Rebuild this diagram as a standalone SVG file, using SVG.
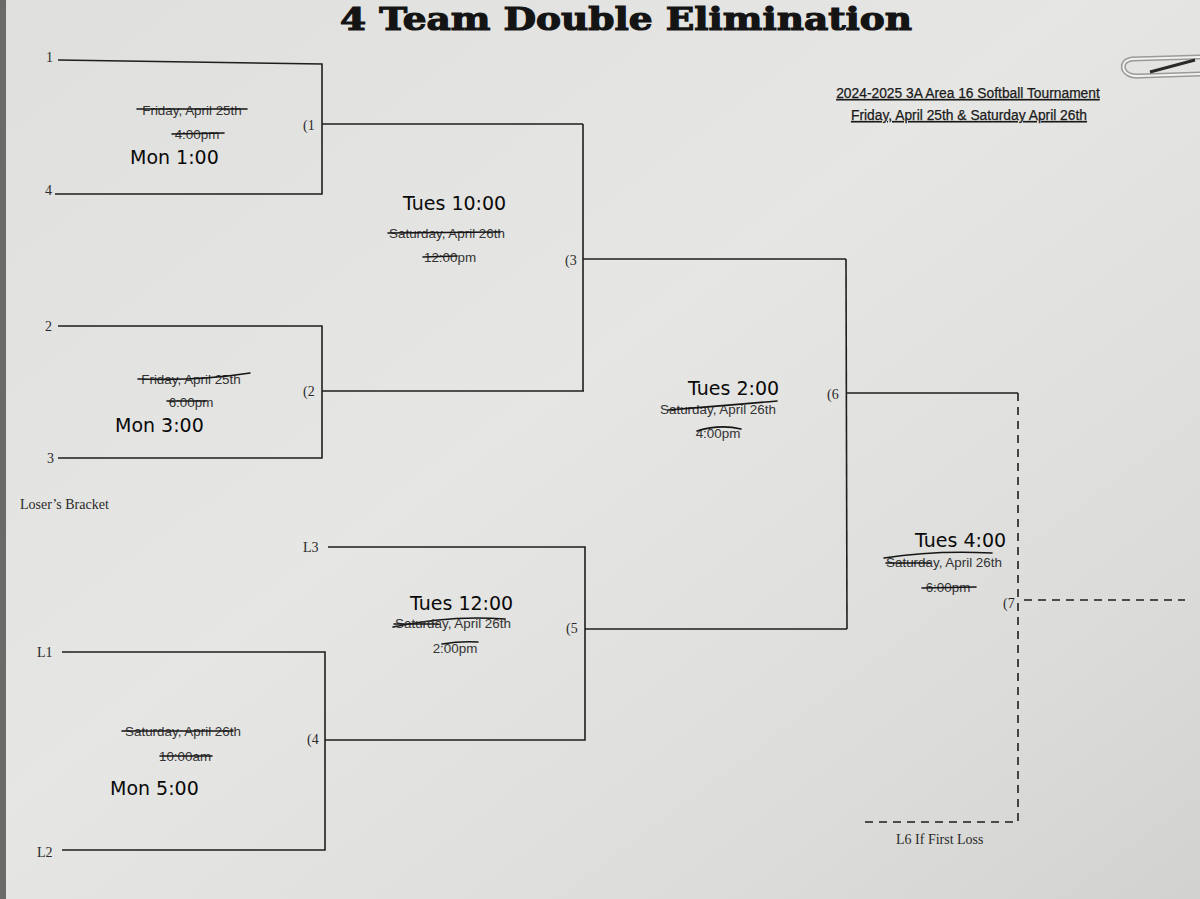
<svg xmlns="http://www.w3.org/2000/svg" width="1200" height="899" viewBox="0 0 1200 899">
<defs>
<linearGradient id="paper" x1="0" y1="0" x2="1" y2="1">
<stop offset="0" stop-color="#dfdfdd"/>
<stop offset="0.45" stop-color="#e6e6e4"/>
<stop offset="0.8" stop-color="#dcdcda"/>
<stop offset="1" stop-color="#d2d2d0"/>
</linearGradient>
<clipPath id="lclip"><rect x="19" y="480" width="200" height="40"/></clipPath>
</defs>
<style>
.ln{stroke:#1e1e1e;stroke-width:1.6;fill:none}
.dash{stroke:#1e1e1e;stroke-width:1.6;fill:none;stroke-dasharray:8 6}
.st{stroke:#151515;stroke-width:1.6;fill:none;stroke-linecap:round}
.pr{font-family:"Liberation Sans",Arial,sans-serif;font-size:13.4px;fill:#333;text-anchor:middle}
.sf{font-family:"Liberation Serif","Times New Roman",serif;font-size:14px;fill:#2a2a2a}
.hw{font-family:"DejaVu Sans","Liberation Sans",sans-serif;font-size:19px;fill:#0a0a0a}
.hd{font-family:"Liberation Sans",Arial,sans-serif;font-size:13.8px;fill:#1a1a1a;stroke:#1a1a1a;stroke-width:0.25;text-anchor:middle;text-decoration:underline}
</style>
<rect x="0" y="0" width="1200" height="899" fill="url(#paper)"/>
<rect x="0" y="0" width="6" height="899" fill="#6a6a68"/>
<text x="626" y="30" font-family="'DejaVu Serif',serif" font-weight="bold" font-size="32" fill="#141414" stroke="#141414" stroke-width="1.2" text-anchor="middle" textLength="572" lengthAdjust="spacingAndGlyphs">4 Team Double Elimination</text>
<g id="header">
<text class="hd" x="968" y="98">2024-2025 3A Area 16 Softball Tournament</text>
<text class="hd" x="969" y="120">Friday, April 25th &amp; Saturday April 26th</text>
</g>
<g id="paperclip">
<path d="M1200 57 L1132 59 Q1121 61 1124 70 Q1128 77 1140 76 L1200 74" fill="none" stroke="#9a9a98" stroke-width="5"/>
<path d="M1200 57 L1132 59 Q1121 61 1124 70 Q1128 77 1140 76 L1200 74" fill="none" stroke="#f2f2f0" stroke-width="2"/>
<path d="M1150 72 L1195 60" stroke="#2a2a2a" stroke-width="3"/>
</g>
<g id="connectors">
<polyline class="ln" points="58,60 322,64 322,194 55,194"/>
<line class="ln" x1="322" y1="124" x2="583" y2="124"/>
<polyline class="ln" points="58,326 322,326 322,458 58,458"/>
<line class="ln" x1="322" y1="391" x2="584" y2="391"/>
<line class="ln" x1="583" y1="124" x2="583" y2="391"/>
<line class="ln" x1="583" y1="259" x2="846" y2="259"/>
<polyline class="ln" points="328,547 585,547 585,740 325,740"/>
<line class="ln" x1="585" y1="629" x2="847" y2="629"/>
<polyline class="ln" points="62,652 325,652 325,850 62,850"/>
<line class="ln" x1="846" y1="259" x2="847" y2="629"/>
<line class="ln" x1="847" y1="393" x2="1018" y2="393"/>
<polyline class="dash" points="1018,393 1018,822 865,822"/>
<line class="dash" x1="1024" y1="600" x2="1185" y2="600"/>
</g>
<g id="seeds">
<text class="sf" x="46" y="62" font-size="12">1</text>
<text class="sf" x="45" y="195" font-size="12">4</text>
<text class="sf" x="45" y="331" font-size="12">2</text>
<text class="sf" x="47" y="463" font-size="12">3</text>
<text class="sf" x="303" y="552">L3</text>
<text class="sf" x="37" y="657">L1</text>
<text class="sf" x="37" y="857">L2</text>
<text class="sf" x="20" y="509" font-size="16" clip-path="url(#lclip)">Loser’s Bracket</text>
<text class="sf" x="896" y="844" font-size="15">L6 If First Loss</text>
</g>
<g id="game1">
<text class="sf" x="303" y="130">(1</text>
<text class="pr" x="192" y="115">Friday, April 25th</text>
<line class="st" x1="137" y1="109" x2="247" y2="109"/>
<text class="pr" x="197" y="139">4:00pm</text>
<line class="st" x1="172" y1="134" x2="224" y2="133"/>
<text class="hw" x="130" y="164">Mon 1:00</text>
</g>
<g id="game2">
<text class="sf" x="303" y="396">(2</text>
<text class="pr" x="191" y="384">Friday, April 25th</text>
<path class="st" d="M138 379 Q200 381 250 373"/>
<text class="pr" x="191" y="407">6:00pm</text>
<line class="st" x1="167" y1="401" x2="206" y2="401"/>
<text class="hw" x="115" y="432" font-size="20">Mon 3:00</text>
</g>
<g id="game3">
<text class="sf" x="565" y="265">(3</text>
<text class="hw" x="403" y="210" font-size="21">Tues 10:00</text>
<text class="pr" x="447" y="238">Saturday, April 26th</text>
<line class="st" x1="388" y1="233" x2="500" y2="232"/>
<text class="pr" x="450" y="262">12:00pm</text>
<line class="st" x1="423" y1="257" x2="457" y2="256"/>
</g>
<g id="game6">
<text class="sf" x="827" y="399">(6</text>
<text class="hw" x="688" y="395" font-size="21">Tues 2:00</text>
<text class="pr" x="718" y="414">Saturday, April 26th</text>
<path class="st" d="M668 410 Q720 406 777 401"/>
<text class="pr" x="718" y="438">4:00pm</text>
<path class="st" d="M697 431 Q720 424 741 429"/>
</g>
<g id="game7">
<text class="sf" x="1003" y="608">(7</text>
<text class="hw" x="915" y="547" font-size="21">Tues 4:00</text>
<path class="st" d="M884 558 Q935 550 992 553"/>
<text class="pr" x="944" y="567">Saturday, April 26th</text>
<line class="st" x1="886" y1="563" x2="930" y2="563"/>
<text class="pr" x="948" y="592">6:00pm</text>
<line class="st" x1="922" y1="588" x2="976" y2="587"/>
</g>
<g id="game5">
<text class="sf" x="566" y="633">(5</text>
<text class="hw" x="410" y="610" font-size="22">Tues 12:00</text>
<path class="st" d="M393 627 Q450 615 505 619"/>
<text class="pr" x="453" y="628">Saturday, April 26th</text>
<line class="st" x1="394" y1="624" x2="438" y2="624"/>
<text class="pr" x="455" y="653">2:00pm</text>
<path class="st" d="M442 644 Q460 641 478 642"/>
</g>
<g id="game4">
<text class="sf" x="307" y="744">(4</text>
<text class="pr" x="183" y="736">Saturday, April 26th</text>
<line class="st" x1="122" y1="731" x2="233" y2="731"/>
<text class="pr" x="185" y="761">10:00am</text>
<line class="st" x1="160" y1="756" x2="212" y2="756"/>
<text class="hw" x="110" y="795" font-size="21">Mon 5:00</text>
</g>
</svg>
